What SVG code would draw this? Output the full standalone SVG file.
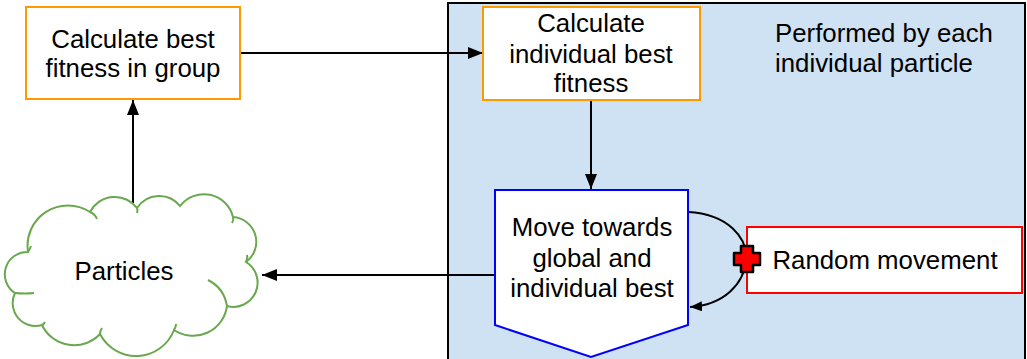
<svg xmlns="http://www.w3.org/2000/svg" width="1027" height="359" viewBox="0 0 1027 359">
<defs>
<style>
text{font-family:"Liberation Sans",Arial,sans-serif;font-size:25.8px;fill:#000}
.c{text-anchor:middle}
.orange{fill:#fff;stroke:#FF9900;stroke-width:2}
.conn{fill:none;stroke:#000;stroke-width:2}
.cloud{fill:none;stroke:#6AA84F;stroke-width:2}
</style>
<marker id="ah" viewBox="0 0 15 12" refX="15" refY="6" markerWidth="15" markerHeight="12" markerUnits="userSpaceOnUse" orient="auto">
<path d="M0,0 L15,6 L0,12 Z" fill="#000"/>
</marker>
<marker id="ahs" viewBox="0 0 12 10" refX="12" refY="5" markerWidth="12" markerHeight="10" markerUnits="userSpaceOnUse" orient="auto">
<path d="M0,0 L12,5 L0,10 Z" fill="#000"/>
</marker>
</defs>
<rect width="1027" height="359" fill="#fff"/>
<g id="container">
<rect x="448" y="3" width="577" height="370" fill="#CFE2F3" stroke="#000" stroke-width="2"/>
<text x="775" y="42">Performed by each</text>
<text x="775" y="72">individual particle</text>
</g>
<g id="connectors">
<line class="conn" x1="240" y1="53" x2="483" y2="53" marker-end="url(#ah)"/>
<line class="conn" x1="591" y1="100" x2="591" y2="189" marker-end="url(#ah)"/>
<line class="conn" x1="495" y1="275" x2="262" y2="275" marker-end="url(#ah)"/>
<line class="conn" x1="133" y1="203" x2="133" y2="100" marker-end="url(#ah)"/>
<path class="conn" d="M688,212 C728,214 748,238 746,260 C744,284 724,305 690,307" marker-end="url(#ahs)"/>
</g>
<g id="best-group">
<rect class="orange" x="26" y="7" width="214" height="92"/>
<text class="c" x="133" y="48">Calculate best</text>
<text class="c" x="133" y="77">fitness in group</text>
</g>
<g id="individual-best">
<rect class="orange" x="483" y="7" width="217" height="93"/>
<text class="c" x="591" y="32">Calculate</text>
<text class="c" x="591" y="63">individual best</text>
<text class="c" x="591" y="92">fitness</text>
</g>
<g id="move">
<path d="M495,190 L688,190 L688,325 L591,357 L495,325 Z" fill="#fff" stroke="#0000FF" stroke-width="2"/>
<text class="c" x="592" y="236">Move towards</text>
<text class="c" x="592" y="267">global and</text>
<text class="c" x="592" y="297">individual best</text>
</g>
<g id="random">
<rect x="747" y="227" width="275" height="66" fill="#fff" stroke="#FF0000" stroke-width="2"/>
<text class="c" x="885" y="269">Random movement</text>
</g>
<g id="plus">
<path d="M741,246 H753 V253 H760 V265 H753 V272 H741 V265 H734 V253 H741 Z" fill="#FF0000" stroke="#000" stroke-width="2.5" stroke-linejoin="round"/>
</g>
<g id="particles">
<path d="M28,252 A40.4,40.4 0 0 1 90,212 A27.9,27.9 0 0 1 137,208 A26.5,26.5 0 0 1 180,206 A30,30 0 0 1 233,217 A24.9,24.9 0 0 1 246,262 A24.2,24.2 0 0 1 227,306 A34.2,34.2 0 0 1 174,330 A40.6,40.6 0 0 1 100,334 A35.5,35.5 0 0 1 42,325 A22.9,22.9 0 0 1 15,293 A22.3,22.3 0 0 1 28,252 Z" fill="#fff" stroke="#6AA84F" stroke-width="2"/>
<path class="cloud" d="M90,212 Q95,214 97,219"/>
<path class="cloud" d="M137,208 Q138,210 137,213"/>
<path class="cloud" d="M233,217 Q234,220 232,223"/>
<path class="cloud" d="M246,262 Q248,258 247,255"/>
<path class="cloud" d="M208,280 Q224,288 227,306"/>
<path class="cloud" d="M174,330 Q176,327 176,324"/>
<path class="cloud" d="M100,334 Q100,331 102,328"/>
<path class="cloud" d="M42,325 Q44,324 45,322"/>
<path class="cloud" d="M15,293 Q25,294 34,293"/>
<path class="cloud" d="M28,252 Q30,249 31,246"/>
<text class="c" x="124" y="280">Particles</text>
</g>
</svg>
